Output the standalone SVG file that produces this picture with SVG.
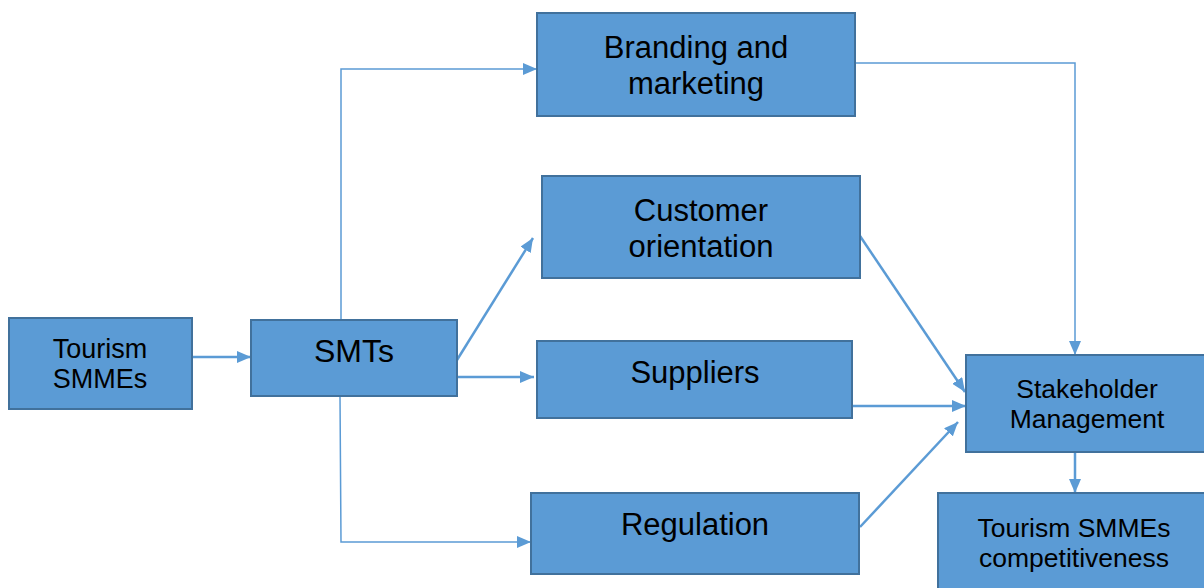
<svg xmlns="http://www.w3.org/2000/svg" width="1204" height="588" viewBox="0 0 1204 588">
<defs>
<marker id="ah" viewBox="0 0 14 12" refX="14" refY="6" markerWidth="14" markerHeight="12" orient="auto" markerUnits="userSpaceOnUse">
<path d="M0,0 L14,6 L0,12 z" fill="#5B9BD5"/>
</marker>
<style>
.box{fill:#5B9BD5;stroke:#41719C;stroke-width:2}
.t{font-family:"Liberation Sans",Arial,sans-serif;fill:#000;text-anchor:middle}
.c{fill:none;stroke:#5B9BD5;stroke-width:2.5;marker-end:url(#ah)}
.c1{fill:none;stroke:#5B9BD5;stroke-width:1.5;marker-end:url(#ah)}
</style>
</defs>
<rect width="1204" height="588" fill="#fff"/>
<g id="connectors">
<path class="c" d="M192,357 L251,357"/>
<path class="c1" d="M341,320 L341,69 L537,69"/>
<path class="c1" d="M340,396 L341,542 L531,542"/>
<path class="c" d="M457,360 L533,238"/>
<path class="c" d="M457,377 L534,377"/>
<path class="c1" d="M855,63 L1075,63 L1075,355"/>
<path class="c" d="M860,236 L965,392"/>
<path class="c" d="M852,406 L966,406"/>
<path class="c" d="M860,527 L958,422"/>
<path class="c" d="M1075,452 L1075,493"/>
</g>
<g id="tourism-smmes"><rect class="box" x="9" y="318" width="183" height="91"/>
<text class="t" font-size="27" x="100" y="358">Tourism</text><text class="t" font-size="27" x="100" y="388">SMMEs</text></g>
<g id="smts"><rect class="box" x="251" y="320" width="206" height="76"/>
<text class="t" font-size="32" x="354" y="362">SMTs</text></g>
<g id="branding"><rect class="box" x="537" y="13" width="318" height="103"/>
<text class="t" font-size="31" x="696" y="58">Branding and</text><text class="t" font-size="31" x="696" y="94">marketing</text></g>
<g id="customer"><rect class="box" x="542" y="176" width="318" height="102"/>
<text class="t" font-size="31" x="701" y="221">Customer</text><text class="t" font-size="31" x="701" y="257">orientation</text></g>
<g id="suppliers"><rect class="box" x="537" y="341" width="315" height="77"/>
<text class="t" font-size="31" x="695" y="383">Suppliers</text></g>
<g id="regulation"><rect class="box" x="531" y="493" width="328" height="81"/>
<text class="t" font-size="31" x="695" y="535">Regulation</text></g>
<g id="stakeholder"><rect class="box" x="966" y="355" width="242" height="97"/>
<text class="t" font-size="26.5" x="1087" y="398">Stakeholder</text><text class="t" font-size="26.5" x="1087" y="428">Management</text></g>
<g id="competitiveness"><rect class="box" x="938" y="493" width="270" height="100"/>
<text class="t" font-size="26.5" x="1074" y="537">Tourism SMMEs</text><text class="t" font-size="26.5" x="1074" y="567">competitiveness</text></g>
</svg>
